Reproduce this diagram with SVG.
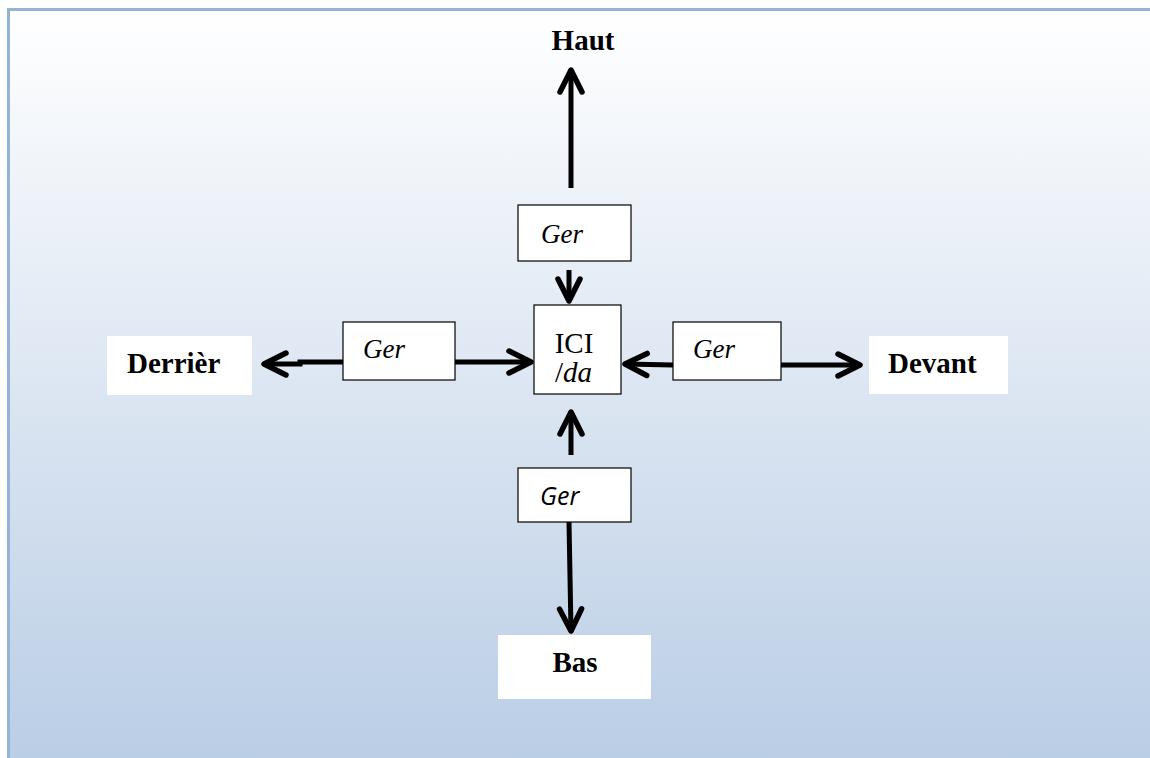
<svg xmlns="http://www.w3.org/2000/svg" width="1150" height="758" viewBox="0 0 1150 758">
<defs>
<linearGradient id="bg" x1="0" y1="0" x2="0" y2="1">
<stop offset="0" stop-color="#ffffff"/>
<stop offset="1" stop-color="#b9cde5"/>
</linearGradient>
<marker id="ah" markerUnits="userSpaceOnUse" markerWidth="40" markerHeight="40" viewBox="-30 -20 40 40" refX="0" refY="0" orient="auto">
<path d="M-22,-11 L0,0 L-22,11" fill="none" stroke="#000" stroke-width="5.5" stroke-linecap="round" stroke-linejoin="round"/>
</marker>
<style>
.box{fill:#fff;stroke:#000;stroke-width:1.2}
.wbox{fill:#fff;stroke:none}
.lbl{font-family:"Liberation Serif",serif;font-weight:bold;font-size:29px;fill:#000}
.ger{font-family:"Liberation Serif",serif;font-style:italic;font-size:27px;fill:#000}
.gers{font-family:"Open Sans","Liberation Sans",sans-serif;font-style:italic;font-size:25px;fill:#000}
.txt{font-family:"Liberation Serif",serif;font-size:29px;fill:#000}
.ar{fill:none;stroke:#000;stroke-width:5;marker-end:url(#ah)}
</style>
</defs>
<rect x="8.5" y="9.5" width="1150" height="760" fill="url(#bg)" stroke="#95b3d7" stroke-width="3"/>
<g id="connectors">
<line class="ar" x1="571" y1="188" x2="571" y2="70"/>
<line class="ar" x1="569" y1="270" x2="569" y2="301"/>
<line class="ar" x1="455" y1="362" x2="531" y2="362"/>
<polyline class="ar" points="343,362 300,362 300,364 264,364"/>
<line class="ar" x1="673" y1="365" x2="625" y2="364"/>
<line class="ar" x1="781" y1="365" x2="860" y2="365"/>
<line class="ar" x1="571" y1="455" x2="571" y2="412"/>
<line class="ar" x1="569" y1="522" x2="571" y2="631"/>
</g>
<g id="haut"><text class="lbl" x="583" y="50" text-anchor="middle" font-size="32">Haut</text></g>
<g id="ger-top"><rect class="box" x="518" y="205" width="113" height="56"/><text class="ger" x="541" y="243" font-size="26">Ger</text></g>
<g id="ici"><rect class="box" x="534" y="305" width="87" height="89"/><text class="txt" x="574" y="353" text-anchor="middle">ICI</text><text class="txt" x="555" y="382">/<tspan font-style="italic">da</tspan></text></g>
<g id="ger-left"><rect class="box" x="343" y="322" width="112" height="58"/><text class="ger" x="363" y="358">Ger</text></g>
<g id="derriere"><rect class="wbox" x="107" y="336" width="145" height="59"/><text class="lbl" x="127" y="373">Derrièr</text></g>
<g id="ger-right"><rect class="box" x="673" y="322" width="108" height="58"/><text class="ger" x="693" y="358">Ger</text></g>
<g id="devant"><rect class="wbox" x="869" y="336" width="139" height="58"/><text class="lbl" x="888" y="373">Devant</text></g>
<g id="ger-bottom"><rect class="box" x="518" y="468" width="113" height="54"/><text class="gers" x="540" y="505">Ger</text></g>
<g id="bas"><rect class="wbox" x="498" y="635" width="153" height="64"/><text class="lbl" x="575" y="672" text-anchor="middle">Bas</text></g>
</svg>
